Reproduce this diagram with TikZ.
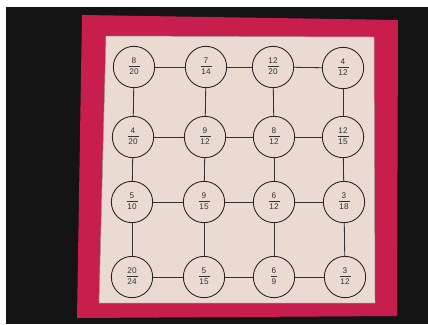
\documentclass[tikz,border=0pt]{standalone}
\usepackage{fontspec}
\setmainfont{Liberation Sans}
\usepackage{xcolor}
\usetikzlibrary{positioning}
\definecolor{board}{RGB}{200,30,78}
\definecolor{panel}{RGB}{234,218,210}
\definecolor{backdrop}{RGB}{20,20,20}
\newcommand{\fr}[2]{{\renewcommand{\arraystretch}{1.2}\setlength{\tabcolsep}{0.8pt}%
  \begin{tabular}{c}#1\\[-1pt]\hline #2\end{tabular}}}

\begin{document}
\begin{tikzpicture}[x=0.03cm, y=-0.03cm,
      frac/.style={circle, draw=black!85, line width=0.75pt, minimum size=1.24cm,
                   inner sep=0pt, font=\fontsize{7}{8}\selectfont, text=black!80},
      link/.style={draw=black!80, line width=0.7pt}
    ]
      % photo backdrop and board
      \useasboundingbox (0,0) rectangle (428,324);
      \fill[white] (0,0) rectangle (428,324);
      \fill[backdrop] (6,7) rectangle (428,324);
      \fill[board] (82,15) -- (398,20) -- (397,316) -- (77,318) -- cycle;
      \filldraw[fill=panel, draw=black!40, line width=0.4pt]
        (106,36) -- (374,37) -- (375,303) -- (99,303) -- cycle;
      % fraction circles
      \foreach \n/\x/\y/\a/\b in {
          a1/134/67/8/20,  a2/206/67/7/14,  a3/273/67/12/20, a4/343/68/4/12,
          b1/133/137/4/20, b2/205/137/9/12, b3/274/137/8/12, b4/343/137/12/15,
          c1/132/202/5/10, c2/204/202/9/15, c3/274/202/6/12, c4/344/202/3/18,
          d1/132/277/20/24, d2/204/277/5/15, d3/274/277/6/9, d4/345/277/3/12}
        \node[frac] (\n) at (\x,\y) {\fr{\a}{\b}};
      % grid links
      \foreach \r in {a,b,c,d} {
        \draw[link] (\r1) -- (\r2); \draw[link] (\r2) -- (\r3); \draw[link] (\r3) -- (\r4);
      }
      \foreach \k in {1,2,3,4} {
        \draw[link] (a\k) -- (b\k); \draw[link] (b\k) -- (c\k); \draw[link] (c\k) -- (d\k);
      }
    \end{tikzpicture}
\end{document}
